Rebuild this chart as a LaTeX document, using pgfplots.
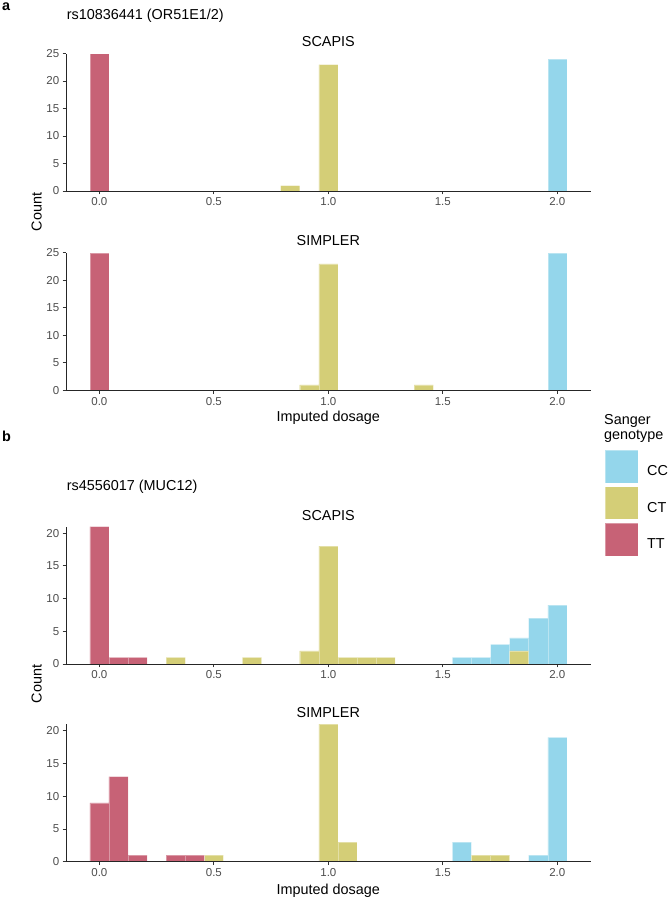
\documentclass[border=0pt]{standalone}
\usepackage{fontspec}
\setmainfont{Liberation Sans}
\usepackage{pgfplots}
\pgfplotsset{compat=1.18}
\definecolor{ccol}{HTML}{94D6EB}
\definecolor{ctcol}{HTML}{D4CE77}
\definecolor{ttcol}{HTML}{C76276}
\definecolor{tickgray}{HTML}{4D4D4D}
\newcommand\ticksize{\fontsize{11.5}{13}\selectfont}
\newcommand\txtsize{\fontsize{14.4}{17}\selectfont}
\pgfplotsset{
 hist/.style={
   scale only axis, width=524.7pt, height=137.5pt,
   xmin=-0.145833, xmax=2.145833, ymin=0,
   axis x line=bottom, axis y line=left,
   axis line style={-, line width=0.9pt, color=black!85},
   xtick={0,0.5,1,1.5,2}, xticklabels={0.0,0.5,1.0,1.5,2.0},
   tick align=outside, major tick length=3.3pt,
   tick style={line width=0.8pt, black!80},
   tick label style={font=\ticksize, text=tickgray},
   /pgf/number format/assume math mode=true,
   minor tick num=0, axis on top, clip=false,
 },
 cc/.style={ybar, bar width=0.083333, bar shift=0pt, fill=ccol, draw=white, draw opacity=0.35, line width=0.4pt},
 ct/.style={ybar, bar width=0.083333, bar shift=0pt, fill=ctcol, draw=white, draw opacity=0.35, line width=0.4pt},
 tt/.style={ybar, bar width=0.083333, bar shift=0pt, fill=ttcol, draw=white, draw opacity=0.35, line width=0.4pt},
}
\begin{document}
\begin{tikzpicture}
\useasboundingbox (0,0) rectangle (669pt,-899pt);
% panel a SCAPIS
\begin{axis}[hist, at={(66pt,-191pt)}, anchor=south west, ymax=25, ytick={0,5,...,25}]
\addplot[cc] coordinates {(2,24)};
\addplot[ct] coordinates {(0.833333,1) (1,23)};
\addplot[tt] coordinates {(0,25)};
\end{axis}
% panel a SIMPLER
\begin{axis}[hist, at={(66pt,-390.3pt)}, anchor=south west, ymax=25, ytick={0,5,...,25}]
\addplot[cc] coordinates {(2,25)};
\addplot[ct] coordinates {(0.916667,1) (1,23) (1.416667,1)};
\addplot[tt] coordinates {(0,25)};
\end{axis}
% panel b SCAPIS
\begin{axis}[hist, at={(66pt,-664pt)}, anchor=south west, ymax=21, ytick={0,5,...,20},
  legend style={at={(1.02725,1.5564)}, anchor=north west, draw=none, fill=none,
    inner sep=0pt, outer sep=0pt, row sep=3.3pt, font=\txtsize,
    nodes={inner sep=0pt}, /tikz/every odd column/.append style={column sep=9pt}},
  legend cell align=left,
  legend image code/.code={\fill[#1] (0pt,-11.2pt) rectangle (32.7pt,21.5pt);}]
\addplot[cc] coordinates {(1.583333,1) (1.666667,1) (1.75,3) (1.833333,4) (1.916667,7) (2,9)};
\addlegendentry{CC}
\addplot[ct] coordinates {(0.333333,1) (0.666667,1) (0.916667,2) (1,18) (1.083333,1) (1.166667,1) (1.25,1) (1.833333,2)};
\addlegendentry{CT}
\addplot[tt] coordinates {(0,21) (0.083333,1) (0.166667,1)};
\addlegendentry{TT}
\end{axis}
% panel b SIMPLER
\begin{axis}[hist, at={(66pt,-861.7pt)}, anchor=south west, ymax=21, ytick={0,5,...,20}]
\addplot[cc] coordinates {(1.583333,3) (1.916667,1) (2,19)};
\addplot[ct] coordinates {(0.5,1) (1,21) (1.083333,3) (1.666667,1) (1.75,1)};
\addplot[tt] coordinates {(0,9) (0.083333,13) (0.166667,1) (0.333333,1) (0.416667,1)};
\end{axis}
% texts
\begin{scope}[every node/.style={inner sep=0pt, font=\txtsize}]
\node[anchor=base west, font=\bfseries\fontsize{14.4}{17}\selectfont] at (2pt,-10.5pt) {a};
\node[anchor=base west] at (66.7pt,-19.3pt) {rs10836441 (OR51E1/2)};
\node[anchor=base] at (328.35pt,-46.7pt) {SCAPIS};
\node[anchor=base] at (328.35pt,-245.7pt) {SIMPLER};
\node[anchor=base] at (328.35pt,-421.7pt) {Imputed dosage};
\node[anchor=base, rotate=90] at (41.5pt,-212pt) {Count};
\node[anchor=base west, font=\bfseries\fontsize{14.4}{17}\selectfont] at (2pt,-441.7pt) {b};
\node[anchor=base west] at (66.7pt,-490.7pt) {rs4556017 (MUC12)};
\node[anchor=base] at (328.35pt,-520pt) {SCAPIS};
\node[anchor=base] at (328.35pt,-717.3pt) {SIMPLER};
\node[anchor=base] at (328.35pt,-894pt) {Imputed dosage};
\node[anchor=base, rotate=90] at (41.5pt,-684pt) {Count};
\node[anchor=base west] at (604pt,-424.3pt) {Sanger};
\node[anchor=base west] at (604pt,-439.3pt) {genotype};
\end{scope}
\end{tikzpicture}
\end{document}
